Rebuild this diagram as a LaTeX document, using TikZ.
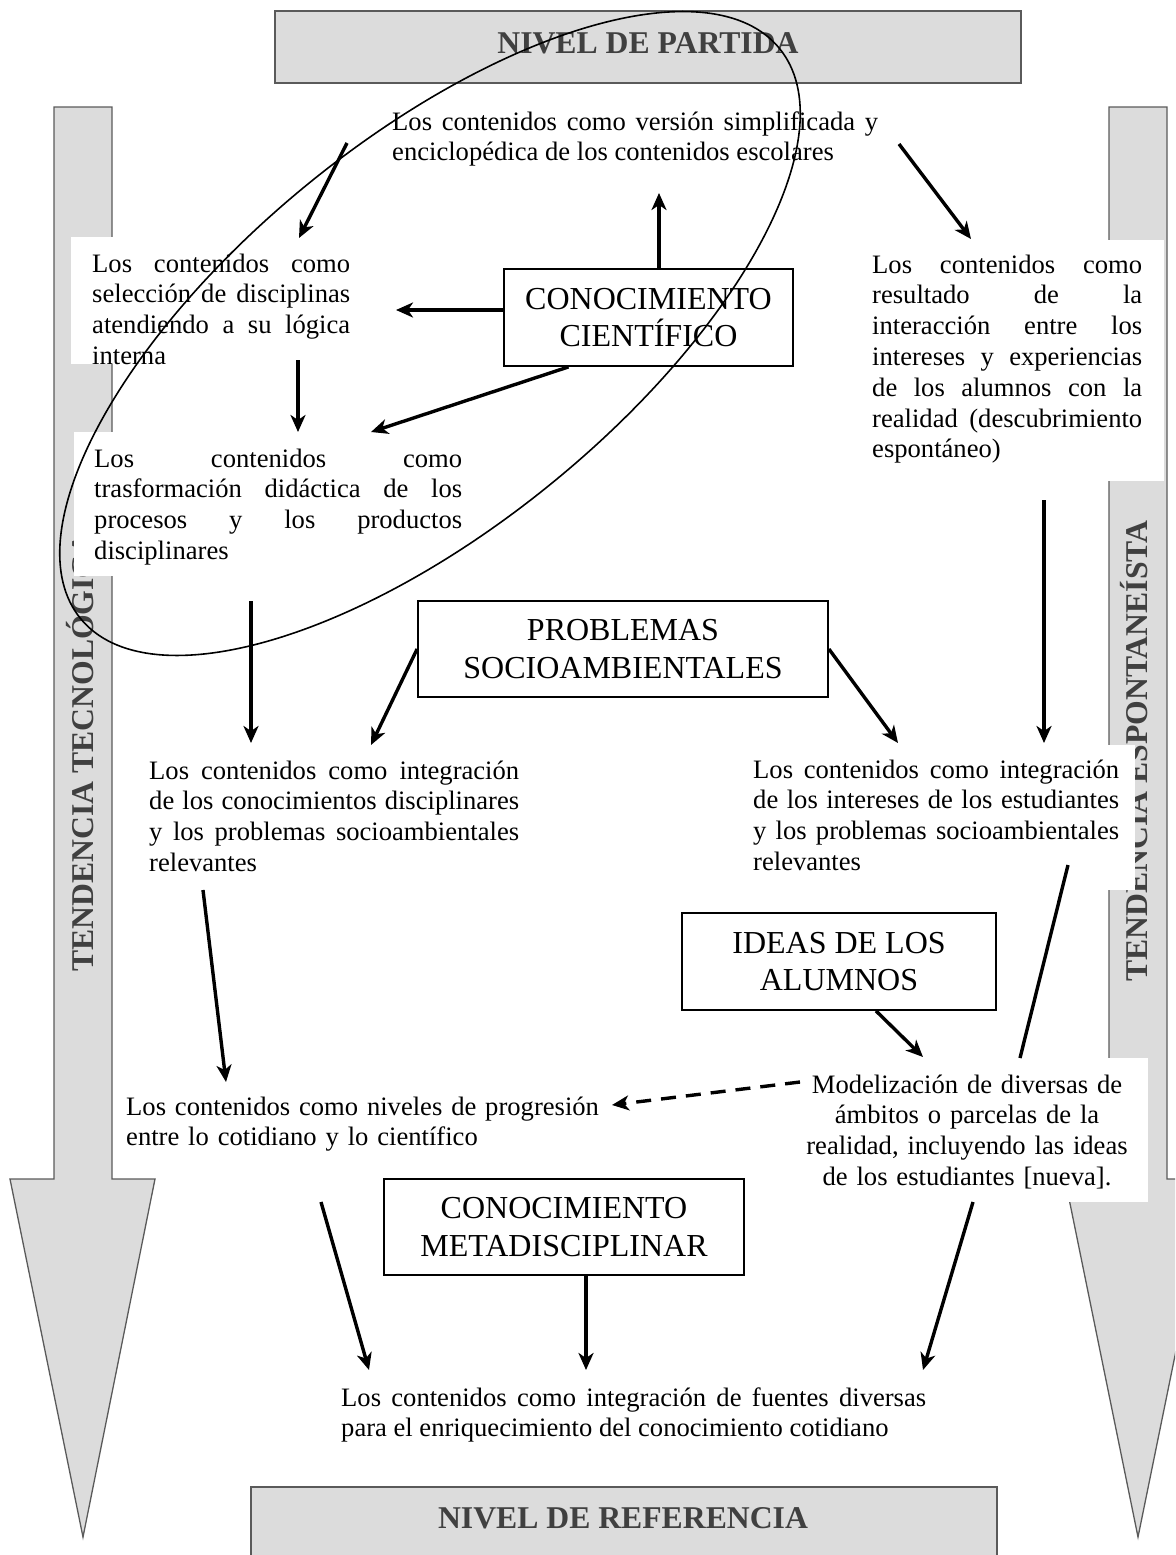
\documentclass[tikz,border=0pt]{standalone}
\usepackage{fontspec}
\setmainfont{Liberation Serif}
\usetikzlibrary{arrows.meta,calc}
\tolerance=10000
\hyphenpenalty=10000
\exhyphenpenalty=10000
\definecolor{shade}{HTML}{DCDCDC}
\definecolor{edge}{HTML}{5A5A5A}
\definecolor{labelgray}{HTML}{404040}
\tikzset{
  body/.style={font=\fontsize{26.6}{30.8}\selectfont, inner sep=0pt, anchor=base west, align=justify},
  concept/.style={draw, line width=1.8pt, font=\fontsize{32}{37.5}\selectfont, align=center, inner sep=0pt},
  levelbox/.style={draw=edge, fill=shade, line width=1.3pt, inner sep=0pt},
  leveltext/.style={font=\bfseries\fontsize{31.7}{36}\selectfont, text=labelgray, inner sep=0pt, anchor=base},
  bigarrow/.style={draw=edge, fill=shade, line width=1.3pt, line join=miter},
  link/.style={line width=3.4pt, -{Stealth[length=17pt,width=15pt,inset=5pt]}},
  plainlink/.style={line width=3.4pt},
  dashlink/.style={link, dash pattern=on 15pt off 10pt},
  mask/.style={fill=white},
  loop/.style={line width=1.6pt}
}
\begin{document}
\begin{tikzpicture}[x=1pt,y=-1pt]
\useasboundingbox (0,0) rectangle (1175,1555);
\clip (0,0) rectangle (1175,1555);

% big grey arrows
\draw[bigarrow] (54,107) -- (112,107) -- (112,1179) -- (155,1179) -- (83,1537) -- (10,1179) -- (54,1179) -- cycle;
\draw[bigarrow] (1109,107) -- (1167,107) -- (1167,1179) -- (1211,1179) -- (1138,1537) -- (1065,1179) -- (1109,1179) -- cycle;
\node[leveltext, rotate=90] (tecno) at (93,752) {TENDENCIA TECNOLÓGICA};
\node[leveltext, rotate=90] (espon) at (1147,751) {TENDENCIA ESPONTANEÍSTA};

% level boxes
\node[levelbox, minimum width=746pt, minimum height=72pt] (partida) at (648,47) {};
\node[leveltext] (partidatxt) at (648,53) {NIVEL DE PARTIDA};
\node[levelbox, minimum width=746pt, minimum height=113pt] (referencia) at (624,1543.5) {};
\node[leveltext] (referenciatxt) at (623,1528) {NIVEL DE REFERENCIA};

% white backgrounds of text blocks
\fill[mask] (71,237) rectangle (355,364);
\fill[mask] (74,432) rectangle (470,576);
\fill[mask] (855,240) rectangle (1164,481);
\fill[mask] (740,745) rectangle (1135,890);
\fill[mask] (805,1058) rectangle (1148,1202);

% text blocks
\node[body, text width=486pt] (ta) at (392,130) {Los contenidos como versión simplificada y\linebreak enciclopédica de los contenidos escolares};
\node[body, text width=258pt] (tb) at (92,272) {Los contenidos como\linebreak selección de disciplinas\linebreak atendiendo a su lógica\linebreak interna};
\node[body, text width=368pt] (tc) at (94,467) {Los contenidos como\linebreak trasformación didáctica de los\linebreak procesos y los productos\linebreak disciplinares};
\node[body, text width=270pt] (td) at (872,273) {Los contenidos como\linebreak resultado de la\linebreak interacción entre los\linebreak intereses y experiencias\linebreak de los alumnos con la\linebreak realidad (descubrimiento\linebreak espontáneo)};
\node[body, text width=370pt] (tf) at (149,779) {Los contenidos como integración\linebreak de los conocimientos disciplinares\linebreak y los problemas socioambientales\linebreak relevantes};
\node[body, text width=366pt] (tg) at (753,778) {Los contenidos como integración\linebreak de los intereses de los estudiantes\linebreak y los problemas socioambientales\linebreak relevantes};
\node[body, text width=540pt, align=left] (tj) at (126,1115) {Los contenidos como niveles de progresión\\entre lo cotidiano y lo científico};
\node[body, text width=360pt, align=center, anchor=base] (ti) at (967,1093) {Modelización de diversas de\\ámbitos o parcelas de la\\realidad, incluyendo las ideas\\de los estudiantes [nueva].};
\node[body, text width=585pt] (tl) at (341,1406) {Los contenidos como integración de fuentes diversas\linebreak para el enriquecimiento del conocimiento cotidiano};

% concept boxes
\node[concept, minimum width=289pt, minimum height=97pt] (cc) at (648.5,317.5) {CONOCIMIENTO\\CIENTÍFICO};
\node[concept, minimum width=410pt, minimum height=96pt] (pb) at (623,649) {PROBLEMAS\\SOCIOAMBIENTALES};
\node[concept, minimum width=314pt, minimum height=97pt] (id) at (839,961.5) {IDEAS DE LOS\\ALUMNOS};
\node[concept, minimum width=360pt, minimum height=96pt] (mk) at (564,1227) {CONOCIMIENTO\\METADISCIPLINAR};

% connector ends
\coordinate (tA) at (659,193);
\coordinate (tB) at (396,310);
\coordinate (tC1) at (371,432);
\coordinate (sAB) at (347,143); \coordinate (tAB) at (299,238);
\coordinate (sAD) at (899,144); \coordinate (tAD) at (971,239);
\coordinate (sBC) at (298,360); \coordinate (tBC) at (298,432);
\coordinate (sCF) at (251,601); \coordinate (tCF) at (251,743);
\coordinate (tPF) at (371,745);
\coordinate (tPG) at (898,743);
\coordinate (sDG) at (1044,500); \coordinate (tDG) at (1044,743);
\coordinate (sFJ) at (203,890); \coordinate (tFJ) at (226,1082);
\coordinate (sGI) at (1068,865); \coordinate (tGI) at (1020,1058);
\coordinate (tII) at (923,1057);
\coordinate (sIJ) at (800,1082); \coordinate (tIJ) at (612,1105);
\coordinate (sJL) at (321,1202); \coordinate (tJL) at (369,1370);
\coordinate (tKL) at (586,1370);
\coordinate (sIL) at (973,1202); \coordinate (tIL) at (923,1370);

% connectors
\draw[link] ([xshift=10.5pt]cc.north) -- (tA);
\draw[link] ([yshift=7.5pt]cc.west) -- (tB);
\draw[link] ([xshift=-80pt]cc.south) -- (tC1);
\draw[link] (sAB) -- (tAB);
\draw[link] (sAD) -- (tAD);
\draw[link] (sBC) -- (tBC);
\draw[link] (sCF) -- (tCF);
\draw[link] (pb.west) -- (tPF);
\draw[link] (pb.east) -- (tPG);
\draw[link] (sDG) -- (tDG);
\draw[link] (sFJ) -- (tFJ);
\draw[plainlink] (sGI) -- (tGI);
\draw[link] ([xshift=37pt]id.south) -- (tII);
\draw[dashlink] (sIJ) -- (tIJ);
\draw[link] (sJL) -- (tJL);
\draw[link] ([xshift=22pt]mk.south) -- (tKL);
\draw[link] (sIL) -- (tIL);

% ellipse
\draw[loop, rotate around={39.2:(430,333.5)}] (430,333.5) ellipse [x radius=451pt, y radius=193pt];
\end{tikzpicture}
\end{document}
